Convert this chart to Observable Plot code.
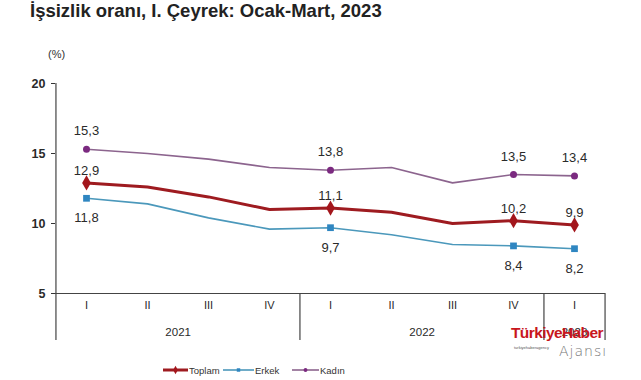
<!DOCTYPE html>
<html><head><meta charset="utf-8">
<script src="https://cdn.jsdelivr.net/npm/d3@7"></script>
<script src="https://cdn.jsdelivr.net/npm/@observablehq/plot@0.6"></script>
<style>
body{margin:0;background:#fff;font-family:"Liberation Sans",Arial,sans-serif;}
#wrap{position:relative;width:641px;height:380px;overflow:hidden;background:#fff;}
#title{position:absolute;left:30px;top:0px;font-size:18.5px;font-weight:bold;color:#222;white-space:nowrap;}
#unit{position:absolute;left:48px;top:48px;font-size:11px;color:#333;}
#legend{position:absolute;left:0;top:362px;width:641px;height:16px;font-size:9.5px;color:#333;}
.li{position:absolute;top:0;display:flex;align-items:center;height:16px;}
#wm{position:absolute;left:511px;top:324px;font-size:15.5px;font-weight:bold;color:#c8161d;letter-spacing:-0.6px;}
#wm2{position:absolute;left:559px;top:343px;font-size:14px;color:#777;font-family:"DejaVu Sans",sans-serif;font-weight:200;letter-spacing:1px;}
#wm3{position:absolute;left:514px;top:345px;font-size:4px;color:#555;}
</style></head>
<body>
<div id="wrap">
  <div id="chart"></div>
  <div id="title">İşsizlik oranı, I. Çeyrek: Ocak-Mart, 2023</div>
  <div id="unit">(%)</div>
  <div id="legend"></div>
  <div id="wm">TürkiyeHaber</div>
  <div id="wm3">turkiyehaberagency</div>
  <div id="wm2">Ajansı</div>
</div>
<script>
const years = ["2021","2021","2021","2021","2022","2022","2022","2022","2023"];
const quarters = ["I","II","III","IV","I","II","III","IV","I"];
const toplam = [12.9,12.6,11.9,11.0,11.1,10.8,10.0,10.2,9.9];
const erkek  = [11.8,11.4,10.4,9.6,9.7,9.2,8.5,8.4,8.2];
const kadin  = [15.3,15.0,14.6,14.0,13.8,14.0,12.9,13.5,13.4];
const labelIdx = [0,4,7,8];
const seriesNames = ["Toplam","Erkek","Kadın"];
const yTicks = [5,10,15,20];
const yearLabels = ["2021","2022","2023"];

const W = 641, H = 380, ML = 55, MR = 36, MT = 83, MB = 87;
const keys = years.map((y,i)=>y+"-"+i);
const step = (W-ML-MR)/keys.length;

const styles = {
  Toplam: {stroke:"#9e1b20", width:3, symbol:"diamond", fill:"#a3161c", r:4.6, dy:-12},
  Erkek:  {stroke:"#4b98bb", width:1.6, symbol:"square", fill:"#2f86c1", r:3.8, dy:20},
  Kadın:  {stroke:"#8c648e", width:1.6, symbol:"circle", fill:"#7b2a80", r:3.5, dy:-18}
};
const seriesVals = {Toplam: toplam, Erkek: erkek, Kadın: kadin};

const rows = [];
for (const s of seriesNames) seriesVals[s].forEach((v,i)=>rows.push({s, k:keys[i], v, i}));

const fmt = v => v.toFixed(1).replace(".", ",");
const marks = [];

marks.push(Plot.axisY({ticks: yTicks, tickSize: 4, tickPadding: 6, label: null, fontSize: 12.5, fill:"#2a2a2a", fontWeight: 600}));
marks.push(Plot.axisX({tickSize: 0, tickPadding: 8, label: null, fontSize: 11, fill:"#2a2a2a", tickFormat: k => quarters[keys.indexOf(k)]}));
marks.push(Plot.ruleY([5], {stroke:"#444", strokeWidth:1.2}));
marks.push(Plot.ruleX([keys[0]], {x: d => d, y1: 20, y2: 5, insetBottom: -47, dx: -step/2, stroke:"#444", strokeWidth:1.2}));
const firstIdx = yearLabels.map(y => years.indexOf(y));
const sepKeys = firstIdx.slice(1).map(i => keys[i]);
marks.push(Plot.ruleX(sepKeys, {x: d => d, y1: 5, y2: 5, insetBottom: -47, dx: -step/2, stroke:"#444", strokeWidth:1.2}));
marks.push(Plot.ruleX([keys[keys.length-1]], {x: d => d, y1: 5, y2: 5, insetBottom: -47, dx: step/2, stroke:"#444", strokeWidth:1.2}));
yearLabels.forEach((y) => {
  const idx = years.map((yy,i)=>yy===y?i:-1).filter(i=>i>=0);
  const k0 = keys[idx[0]];
  marks.push(Plot.text([y], {x: () => k0, y: () => 5, text: d => d, dy: 39, dx: (idx.length-1)/2*step, fontSize: 11.5, fill:"#2a2a2a"}));
});

for (const s of seriesNames) {
  const st = styles[s];
  const data = rows.filter(r => r.s === s);
  marks.push(Plot.line(data, {x:"k", y:"v", stroke: st.stroke, strokeWidth: st.width}));
}
for (const s of seriesNames) {
  const st = styles[s];
  const data = rows.filter(r => r.s === s && labelIdx.includes(r.i));
  marks.push(Plot.dot(data, {x:"k", y:"v", symbol: st.symbol, r: st.r, fill: st.fill, stroke: "none"}));
  marks.push(Plot.text(data, {x:"k", y:"v", text: d => fmt(d.v), dy: st.dy, fontSize: 13, fill:"#2a2a2a"}));
}

const chart = Plot.plot({
  width: W, height: H,
  marginLeft: ML, marginRight: MR, marginTop: MT, marginBottom: MB,
  style: {fontFamily: '"Liberation Sans", Arial, sans-serif', color:"#333", background:"transparent"},
  x: {type: "point", domain: keys, padding: 0.5, align: 0.5},
  y: {domain: [5, 20]},
  marks
});
document.getElementById("chart").appendChild(chart);

const legX = {Toplam:[163,189], Erkek:[223,255], Kadın:[292,320]};
const leg = document.getElementById("legend");
for (const s of seriesNames) {
  const st = styles[s];
  const [x0, tx] = legX[s];
  const w = tx - x0 - 1;
  const sym = d3.symbol().type(st.symbol==="diamond"?d3.symbolDiamond:st.symbol==="square"?d3.symbolSquare:d3.symbolCircle).size(st.symbol==="diamond"?20:12)();
  const div = document.createElement("div");
  div.className = "li";
  div.style.left = x0 + "px";
  div.innerHTML = `<svg width="${w}" height="16"><line x1="0" x2="${w}" y1="8" y2="8" stroke="${st.stroke}" stroke-width="${st.width}"/><path transform="translate(${w/2},8)" d="${sym}" fill="${st.fill}"/></svg><span style="margin-left:1px">${s}</span>`;
  leg.appendChild(div);
}
</script>
</body></html>
